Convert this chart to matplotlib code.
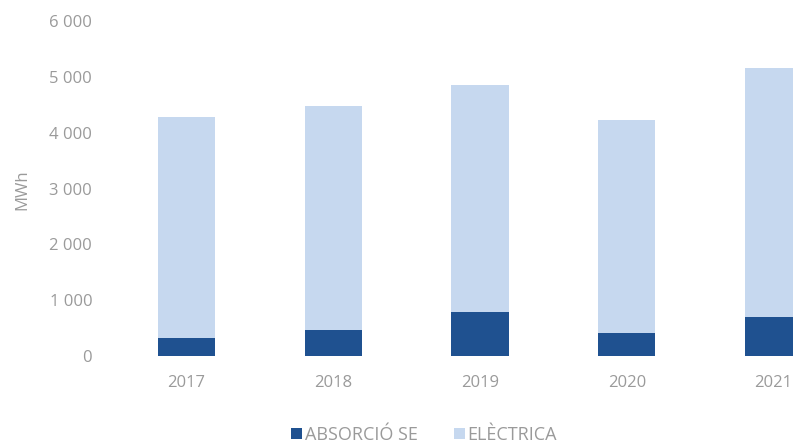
import matplotlib.pyplot as plt
import numpy as np
from matplotlib.ticker import FuncFormatter

years = ["2017", "2018", "2019", "2020", "2021"]
absorcio = [330, 470, 790, 410, 700]
electrica = [3950, 4000, 4060, 3810, 4450]

dark = "#1f5190"
light = "#c6d8ef"
grey = "#9a9a9a"

plt.rcParams["font.family"] = ["Open Sans", "DejaVu Sans"]

fig = plt.figure(figsize=(7.93, 4.44), dpi=100)
# the source image is cropped on the right, so the axes run past the figure edge
ax = fig.add_axes([113 / 793, 1 - 356 / 444, 734 / 793, 335 / 444])

x = np.arange(len(years))
ax.bar(x, absorcio, width=0.39, color=dark, label="ABSORCIÓ SE")
ax.bar(x, electrica, width=0.39, bottom=absorcio, color=light, label="ELÈCTRICA")

ax.set_xlim(-0.5, len(years) - 0.5)
ax.set_ylim(0, 6000)
ax.set_yticks(np.arange(0, 6001, 1000))
ax.yaxis.set_major_formatter(FuncFormatter(lambda v, p: f"{int(v):,}".replace(",", " ")))
ax.set_xticks(x)
ax.set_xticklabels(years)

ax.tick_params(axis="both", length=0, colors=grey, labelsize=12)
ax.tick_params(axis="y", pad=15)
ax.tick_params(axis="x", pad=14)
for s in ax.spines.values():
    s.set_visible(False)

fig.text(22 / 793, 1 - 190 / 444, "MWh", rotation=90, color=grey, fontsize=12,
         ha="center", va="center")

fig.legend(loc="center", bbox_to_anchor=(424 / 793, 1 - 435 / 444), ncol=2,
           frameon=False, fontsize=13, labelcolor=grey, handlelength=0.6,
           handleheight=0.6, handletextpad=0.15, columnspacing=2.0)

fig.savefig("out.png", dpi=100)
